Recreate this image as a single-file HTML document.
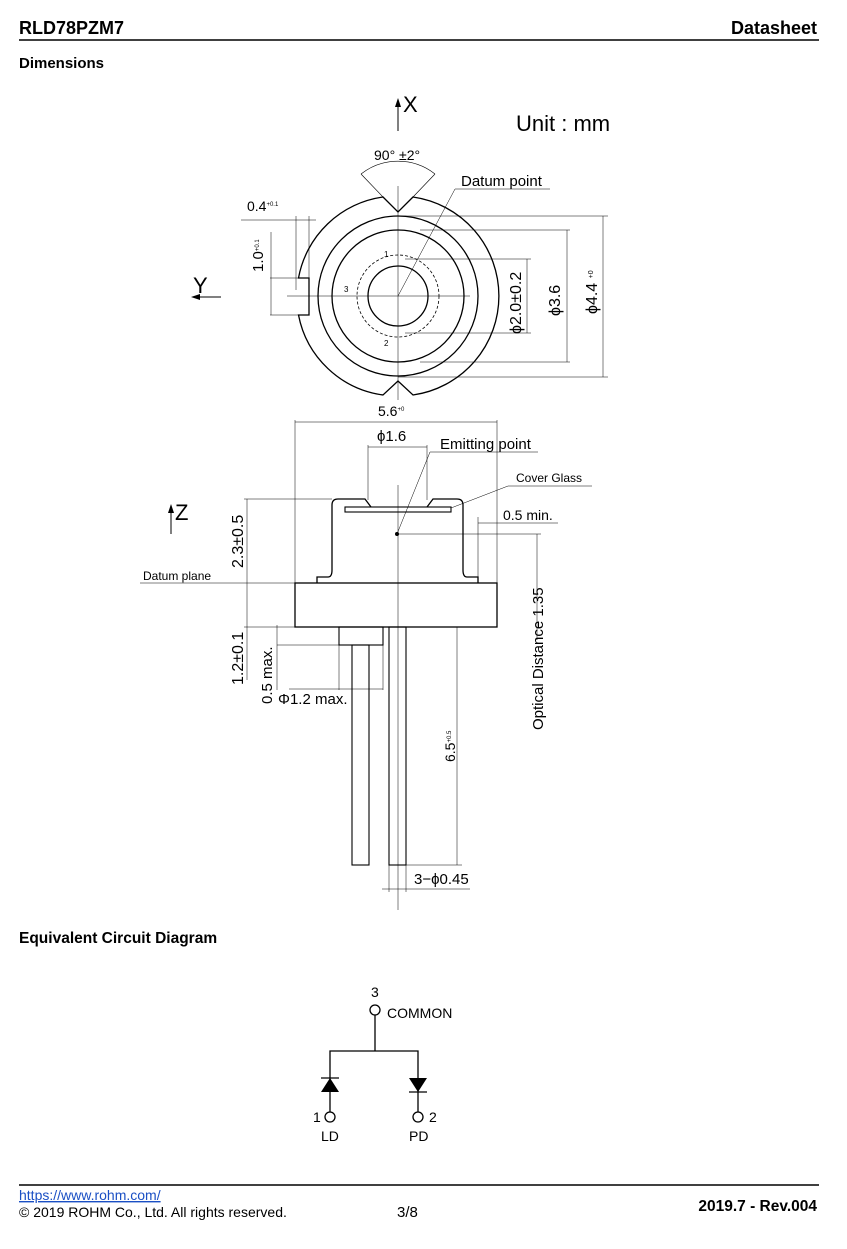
<!DOCTYPE html>
<html><head><meta charset="utf-8"><style>
html,body{margin:0;padding:0;background:#fff;}
svg{display:block;font-family:"Liberation Sans",sans-serif;}
</style></head><body>
<svg width="847" height="1249" viewBox="0 0 847 1249" xmlns="http://www.w3.org/2000/svg">
<!-- header -->
<text x="19" y="34" font-size="18" font-weight="bold">RLD78PZM7</text>
<text x="817" y="34" font-size="18" font-weight="bold" text-anchor="end">Datasheet</text>
<line x1="19" y1="40" x2="819" y2="40" stroke="#000" stroke-width="1.5"/>
<text x="19" y="68" font-size="15" font-weight="bold">Dimensions</text>

<g fill="none" stroke="#000">
<line x1="398" y1="131" x2="398" y2="100" stroke-width="1"/>
<path d="M395,107 L398,98 L401,107" fill="#000" stroke="none"/>
<path d="M383,197 L398,212 L413,197 A100,100 0 0 1 413,395 L398,381 L383,395 A100,100 0 0 1 298.5,315 L309,315 L309,278 L298.5,278 A100,100 0 0 1 383,197 Z" stroke-width="1.3"/>
<circle cx="398" cy="296" r="80" stroke-width="1.3"/>
<circle cx="398" cy="296" r="66" stroke-width="1.3"/>
<circle cx="398" cy="296" r="30" stroke-width="1.3"/>
<circle cx="398" cy="296" r="41" stroke-width="0.8" stroke-dasharray="3,2"/>
<path d="M361,174 A60,60 0 0 1 435,174" stroke-width="0.6"/>
<line x1="361" y1="174" x2="383" y2="197" stroke-width="0.6"/>
<line x1="435" y1="174" x2="413" y2="197" stroke-width="0.6"/>
<g stroke-width="0.5">
<line x1="398" y1="186" x2="398" y2="400"/>
<line x1="287" y1="296" x2="470" y2="296"/>
<line x1="398" y1="296" x2="455" y2="189"/>
<line x1="455" y1="189" x2="550" y2="189"/>
<line x1="398" y1="216" x2="608" y2="216"/><line x1="398" y1="377" x2="608" y2="377"/>
<line x1="603" y1="216" x2="603" y2="377"/>
<line x1="420" y1="230" x2="570" y2="230"/><line x1="420" y1="362" x2="570" y2="362"/>
<line x1="567" y1="230" x2="567" y2="362"/>
<line x1="405" y1="259" x2="531" y2="259"/><line x1="405" y1="333" x2="531" y2="333"/>
<line x1="527" y1="259" x2="527" y2="333"/>
<line x1="241" y1="220" x2="316" y2="220"/>
<line x1="296" y1="216" x2="296" y2="290"/><line x1="309" y1="216" x2="309" y2="278"/>
<line x1="270" y1="278" x2="300" y2="278"/><line x1="270" y1="315" x2="300" y2="315"/>
<line x1="271" y1="232" x2="271" y2="315"/>
</g>
<line x1="193" y1="297" x2="221" y2="297" stroke-width="1"/>
<path d="M200,294 L191,297 L200,300" fill="#000" stroke="none"/>

<path d="M317,583 L317,577 L328,577 Q332,577 332,570 L332,505 Q332,499 338,499 L365,499 L371,507 M427,507 L433,499 L457,499 Q463,499 463,505 L463,570 Q463,577 467,577 L478,577 L478,583" stroke-width="1.3"/>
<rect x="345" y="507" width="106" height="5" stroke-width="1.1"/>
<rect x="295" y="583" width="202" height="44" stroke-width="1.3"/>
<rect x="339" y="627" width="44" height="18" stroke-width="1.1"/>
<rect x="352" y="645" width="17" height="220" stroke-width="1.1"/>
<rect x="389" y="627" width="17" height="238" stroke-width="1.1"/>
<g stroke-width="0.5">
<line x1="398" y1="485" x2="398" y2="910"/>
<line x1="295" y1="420" x2="295" y2="583"/><line x1="497" y1="420" x2="497" y2="583"/>
<line x1="295" y1="422" x2="497" y2="422"/>
<line x1="368" y1="445" x2="368" y2="500"/><line x1="427" y1="445" x2="427" y2="500"/>
<line x1="368" y1="447" x2="427" y2="447"/>
<line x1="397" y1="534" x2="430" y2="452"/><line x1="430" y1="452" x2="538" y2="452"/>
<line x1="451" y1="508" x2="508" y2="486"/><line x1="508" y1="486" x2="592" y2="486"/>
<line x1="478" y1="517" x2="478" y2="577"/><line x1="478" y1="523" x2="558" y2="523"/>
<line x1="397" y1="534" x2="541" y2="534"/><line x1="537" y1="534" x2="537" y2="640"/>
<line x1="140" y1="583" x2="295" y2="583"/>
<line x1="244" y1="499" x2="332" y2="499"/><line x1="247" y1="499" x2="247" y2="627"/>
<line x1="244" y1="627" x2="295" y2="627"/><line x1="247" y1="627" x2="247" y2="680"/>
<line x1="277" y1="645" x2="339" y2="645"/><line x1="277" y1="625" x2="277" y2="690"/>
<line x1="289" y1="689" x2="383" y2="689"/><line x1="339" y1="645" x2="339" y2="690"/><line x1="383" y1="645" x2="383" y2="690"/>
<line x1="457" y1="627" x2="457" y2="865"/><line x1="406" y1="865" x2="462" y2="865"/>
<line x1="389" y1="865" x2="389" y2="892"/><line x1="406" y1="865" x2="406" y2="892"/>
<line x1="382" y1="889" x2="470" y2="889"/>
</g>
<circle cx="397" cy="534" r="1.5" fill="#000"/>
<line x1="171" y1="534" x2="171" y2="506" stroke-width="1"/>
<path d="M168,513 L171,504 L174,513" fill="#000" stroke="none"/>
</g>

<g font-size="15">
<text x="403" y="112" font-size="22">X</text>
<text x="516" y="131" font-size="22">Unit : mm</text>
<text x="374" y="160" font-size="14">90°   ±2°</text>
<text x="461" y="186">Datum point</text>
<text x="247" y="211" font-size="14">0.4<tspan font-size="6" dy="-5">+0.1</tspan></text>
<text x="193" y="293" font-size="22">Y</text>
<text x="384" y="257" font-size="8">1</text>
<text x="344" y="292" font-size="8">3</text>
<text x="384" y="346" font-size="8">2</text>
<text transform="translate(263,272) rotate(-90)">1.0<tspan font-size="6" dy="-4">+0.1</tspan></text>
<text transform="translate(521,334) rotate(-90)" font-size="16">ϕ2.0±0.2</text>
<text transform="translate(560,316) rotate(-90)" font-size="16">ϕ3.6</text>
<text transform="translate(597,314) rotate(-90)" font-size="16">ϕ4.4 <tspan font-size="7" dy="-4">+0</tspan></text>
<text x="378" y="416" font-size="14">5.6<tspan font-size="6" dy="-5">+0</tspan></text>
<text x="377" y="441">ϕ1.6</text>
<text x="440" y="449">Emitting point</text>
<text x="516" y="482" font-size="12">Cover Glass</text>
<text x="503" y="520" font-size="14">0.5 min.</text>
<text x="175" y="520" font-size="22">Z</text>
<text x="143" y="580" font-size="12">Datum plane</text>
<text transform="translate(243,568) rotate(-90)" font-size="16">2.3±0.5</text>
<text transform="translate(243,685) rotate(-90)" font-size="16">1.2±0.1</text>
<text transform="translate(272,704) rotate(-90)">0.5 max.</text>
<text x="278" y="704">Φ1.2 max.</text>
<text transform="translate(543,730) rotate(-90)">Optical Distance 1.35</text>
<text transform="translate(455,762) rotate(-90)" font-size="14">6.5<tspan font-size="6" dy="-4">+0.5</tspan></text>
<text x="414" y="884">3−ϕ0.45</text>
</g>

<text x="19" y="943" font-size="15.5" font-weight="bold">Equivalent Circuit Diagram</text>
<g stroke="#000" fill="none" stroke-width="1.3">
<circle cx="375" cy="1010" r="5"/>
<line x1="375" y1="1015" x2="375" y2="1051"/>
<polyline points="330,1112 330,1051 418,1051 418,1112"/>
<circle cx="330" cy="1117" r="5"/>
<circle cx="418" cy="1117" r="5"/>
<line x1="321" y1="1078" x2="339" y2="1078"/>
<line x1="409" y1="1092" x2="427" y2="1092"/>
</g>
<path d="M330,1078 L339,1092 L321,1092 Z" fill="#000"/>
<path d="M409,1078 L427,1078 L418,1092 Z" fill="#000"/>
<g font-size="14">
<text x="371" y="997">3</text>
<text x="387" y="1018">COMMON</text>
<text x="313" y="1122">1</text>
<text x="429" y="1122">2</text>
<text x="321" y="1141">LD</text>
<text x="409" y="1141">PD</text>
</g>

<line x1="19" y1="1185" x2="819" y2="1185" stroke="#000" stroke-width="1.5"/>
<text x="19" y="1200" font-size="14" fill="#1a4fc4" text-decoration="underline">https://www.rohm.com/</text>
<text x="19" y="1217" font-size="14">© 2019 ROHM Co., Ltd. All rights reserved.</text>
<text x="397" y="1217" font-size="15">3/8</text>
<text x="817" y="1211" font-size="15.5" font-weight="bold" text-anchor="end">2019.7  -  Rev.004</text>
</svg>
</body></html>
